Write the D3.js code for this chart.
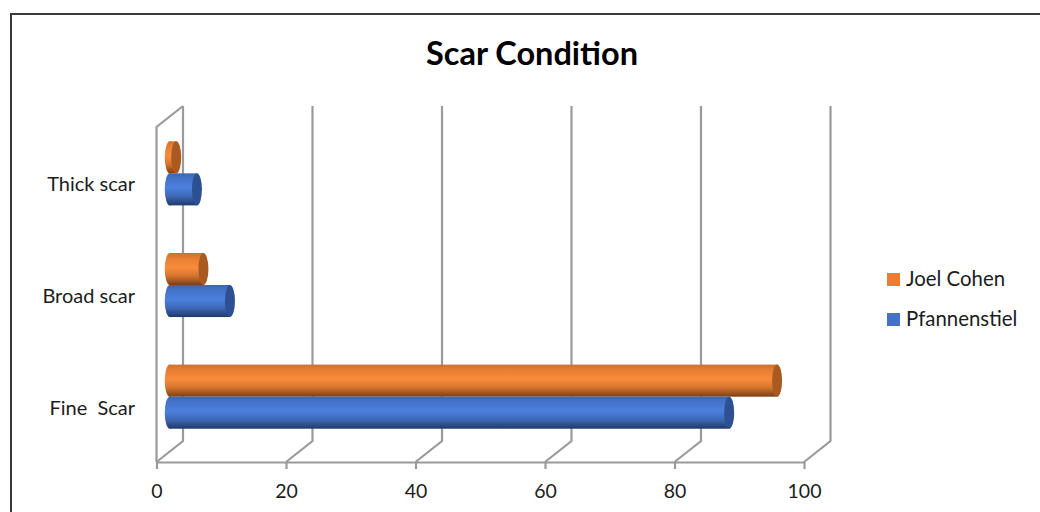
<!DOCTYPE html>
<html lang="en">
<head>
<meta charset="utf-8">
<title>Scar Condition</title>
<script src="https://d3js.org/d3.v7.min.js"></script>
<style>
  html, body { margin: 0; padding: 0; background: #fff; overflow: hidden; }
  text { font-family: Lato, "Open Sans", sans-serif; fill: #1c1c1c; }
</style>
</head>
<body>
<script>
const categories = ["Fine  Scar", "Broad scar", "Thick scar"];
const seriesNames = ["Joel Cohen", "Pfannenstiel"];
const joelCohen = [93.8, 5.2, 1];
const pfannenstiel = [86.4, 9.3, 4.2];
const xTicks = [0, 20, 40, 60, 80, 100];

const width = 1040, height = 512;
const wallColor = "#9a9a9a";

// 3d depth of the box, bars sit in the middle of it
const depthX = 26.5, depthY = -21;

const svg = d3.select("body").append("svg")
  .attr("width", width)
  .attr("height", height)
  .style("display", "block");

// picture frame
svg.append("rect")
  .attr("x", 11).attr("y", 14)
  .attr("width", 1040).attr("height", 540)
  .attr("fill", "#fff")
  .attr("stroke", "#3a3a3a")
  .attr("stroke-width", 2);

svg.append("text")
  .attr("x", 532).attr("y", 65)
  .attr("text-anchor", "middle")
  .style("font-size", "32.5px")
  .style("font-weight", "700")
  .style("fill", "#000")
  .text("Scar Condition");

const xScale = d3.scaleLinear().domain([0, 100]).range([156.5, 804]);
const floorY = 462, topY = 127;

const yScale = d3.scaleBand()
  .domain(categories)
  .range([floorY + depthY / 2 + 1, topY + depthY / 2 + 1])
  .paddingInner(0.426)
  .paddingOuter(0.213);

const subScale = d3.scaleBand()
  .domain(seriesNames)
  .range([0, yScale.bandwidth()]);

// gradients for the cylinders
const defs = svg.append("defs");
function addGradient(id, stops) {
  const g = defs.append("linearGradient")
    .attr("id", id)
    .attr("x1", 0).attr("y1", 0).attr("x2", 0).attr("y2", 1);
  stops.forEach(s => g.append("stop").attr("offset", s[0]).attr("stop-color", s[1]));
}
addGradient("orangeBody", [[0, "#c9702f"], [0.15, "#e47d34"], [0.45, "#fa8c3b"], [0.72, "#d4742e"], [1, "#7a3f17"]]);
addGradient("blueBody", [[0, "#3b66b2"], [0.15, "#4372c6"], [0.45, "#4c80de"], [0.72, "#3d68b6"], [1, "#1f3969"]]);

const walls = svg.append("g")
  .attr("fill", "none")
  .attr("stroke", wallColor)
  .attr("stroke-width", 2.2);

// back wall lines and floor diagonals
walls.selectAll("path.grid")
  .data(xTicks)
  .enter()
  .append("path")
  .attr("class", "grid")
  .attr("d", d => {
    const x = xScale(d);
    return "M" + x + "," + floorY +
      "L" + (x + depthX) + "," + (floorY + depthY) +
      "L" + (x + depthX) + "," + (topY + depthY);
  });

// left side wall
walls.append("path")
  .attr("d", "M" + xScale(0) + "," + floorY +
    "L" + xScale(0) + "," + topY +
    "L" + (xScale(0) + depthX) + "," + (topY + depthY));

// bottom axis
const bottomAxis = d3.axisBottom(xScale)
  .tickValues(xTicks)
  .tickSize(7)
  .tickSizeOuter(0)
  .tickPadding(15);

const axisG = svg.append("g")
  .attr("transform", "translate(0," + floorY + ")")
  .call(bottomAxis);
axisG.select(".domain").attr("stroke", wallColor).attr("stroke-width", 2.2);
axisG.selectAll(".tick line").attr("stroke", wallColor).attr("stroke-width", 2.2);
axisG.selectAll(".tick text")
  .style("font-size", "19.5px")
  .attr("font-family", null);

// category labels
svg.selectAll("text.cat")
  .data(categories)
  .enter()
  .append("text")
  .attr("class", "cat")
  .attr("x", 135)
  .attr("y", d => yScale(d) + yScale.bandwidth() / 2 + 18)
  .attr("text-anchor", "end")
  .style("white-space", "pre")
  .style("font-size", "20px")
  .text(d => d);

const seriesData = [
  { name: seriesNames[0], values: joelCohen, fill: "url(#orangeBody)", cap: "#a85a20" },
  { name: seriesNames[1], values: pfannenstiel, fill: "url(#blueBody)", cap: "#2c5092" }
];

const capR = 5;
const x0 = xScale(0) + depthX / 2;

// bars at the top of the chart first so the lower ones overlap them
const rows = categories.map((c, i) => ({ c: c, i: i })).reverse();

rows.forEach(row => {
  seriesData.forEach(s => {
    const y = yScale(row.c) + subScale(s.name);
    const h = subScale.bandwidth();
    const xEnd = xScale(s.values[row.i]) + depthX / 2;
    const g = svg.append("g");
    g.append("ellipse")
      .attr("cx", x0).attr("cy", y + h / 2)
      .attr("rx", capR).attr("ry", h / 2)
      .attr("fill", s.fill);
    g.append("rect")
      .attr("x", x0).attr("y", y)
      .attr("width", Math.max(0, xEnd - x0)).attr("height", h)
      .attr("fill", s.fill);
    g.append("ellipse")
      .attr("cx", xEnd).attr("cy", y + h / 2)
      .attr("rx", capR).attr("ry", h / 2)
      .attr("fill", s.cap);
  });
});

// legend
const legendY = d3.scalePoint().domain(seriesNames).range([279, 319]);
const legend = svg.selectAll("g.legend")
  .data(seriesData)
  .enter()
  .append("g")
  .attr("class", "legend")
  .attr("transform", d => "translate(887," + legendY(d.name) + ")");
legend.append("rect")
  .attr("x", 0).attr("y", -6)
  .attr("width", 13).attr("height", 13)
  .attr("fill", (d, i) => i === 0 ? "#ed7d31" : "#4472c4");
legend.append("text")
  .attr("x", 19).attr("y", 7)
  .style("font-size", "20.4px")
  .text(d => d.name);
</script>
</body>
</html>
